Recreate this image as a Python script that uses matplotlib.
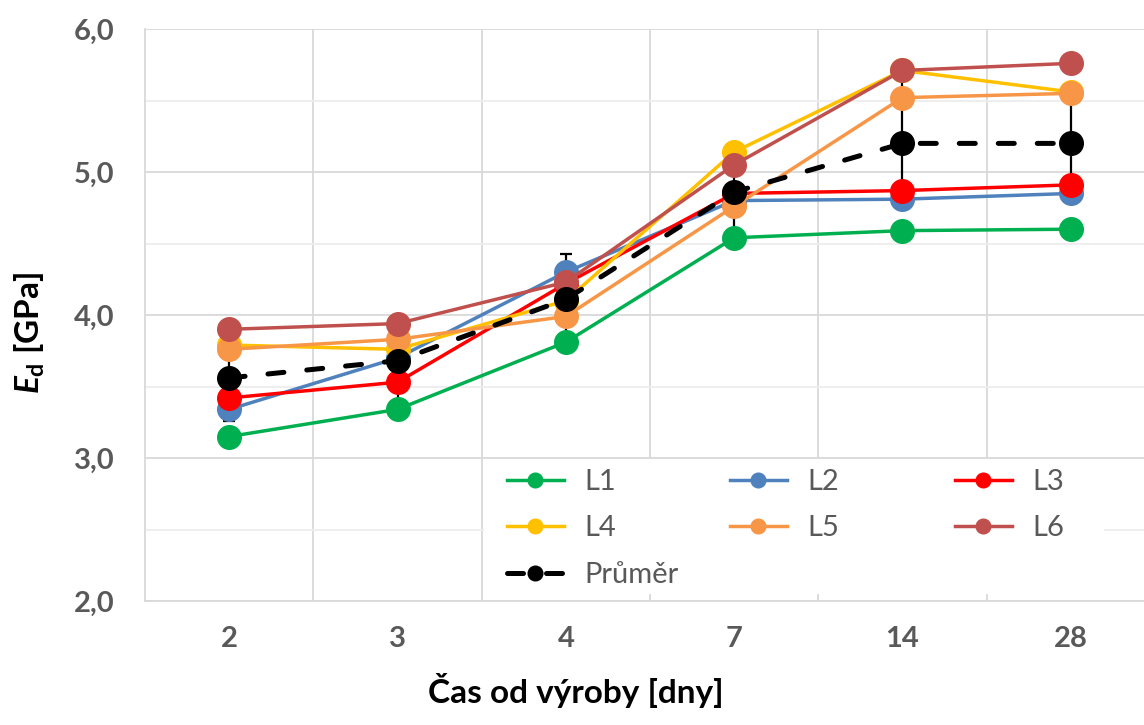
import matplotlib
matplotlib.use("Agg")
import matplotlib.pyplot as plt
from matplotlib.ticker import MultipleLocator
from matplotlib.patches import Rectangle

# data
dny = ["2", "3", "4", "7", "14", "28"]
L1 = [3.15, 3.34, 3.81, 4.54, 4.59, 4.60]
L2 = [3.34, 3.70, 4.30, 4.80, 4.81, 4.85]
L3 = [3.42, 3.53, 4.22, 4.85, 4.87, 4.91]
L4 = [3.79, 3.76, 4.10, 5.14, 5.71, 5.56]
L5 = [3.76, 3.83, 3.99, 4.76, 5.52, 5.55]
L6 = [3.90, 3.94, 4.23, 5.05, 5.71, 5.76]
prumer = [3.56, 3.68, 4.11, 4.86, 5.20, 5.20]
odchylka = [0.30, 0.28, 0.32, 0.28, 0.45, 0.40]

serie = [("L1", L1, "#00B050"), ("L2", L2, "#4F81BD"), ("L3", L3, "#FF0000"),
         ("L4", L4, "#FFC000"), ("L5", L5, "#F79646"), ("L6", L6, "#C0504D")]

plt.rcParams['font.family'] = ['Lato', 'DejaVu Sans']
plt.rcParams['mathtext.fontset'] = 'custom'
plt.rcParams['mathtext.it'] = 'Lato:bold:italic'
plt.rcParams['mathtext.bf'] = 'Lato:bold'
plt.rcParams['mathtext.rm'] = 'Lato:bold'

W, H = 1144, 725
fig = plt.figure(figsize=(W/100, H/100), dpi=100)
ax = fig.add_axes([145/W, 124/H, 1010/W, 572/H])

x = list(range(len(dny)))
handles = {}
for nazev, y, barva in serie:
    h, = ax.plot(x, y, color=barva, lw=2.5, marker="o", ms=17, mec=barva,
                 zorder=3, label=nazev)
    handles[nazev] = h

ax.errorbar(x, prumer, yerr=odchylka, fmt="none", ecolor="black", elinewidth=1.6,
            capsize=4.5, capthick=1.6, zorder=2)
hp, = ax.plot(x, prumer, color="black", lw=3.6, dashes=(3.2, 4.6),
              dash_capstyle="round", marker="o", ms=17, zorder=4, label="Průměr")
handles["Průměr"] = hp

ax.set_xlim(-0.5, 5.5)
ax.set_ylim(2.0, 6.0)
ax.set_xticks(x)
ax.set_xticklabels(dny)
ax.set_xticks([i + 0.5 for i in range(5)], minor=True)
ax.yaxis.set_minor_locator(MultipleLocator(0.5))
ax.set_yticks([2, 3, 4, 5, 6])
ax.set_yticklabels([("%.1f" % v).replace(".", ",") for v in [2, 3, 4, 5, 6]])

ax.grid(which="major", axis="y", color="#D9D9D9", lw=1.3)
ax.grid(which="minor", axis="y", color="#EDEDED", lw=1.3)
ax.grid(which="minor", axis="x", color="#D9D9D9", lw=1.3)
ax.set_axisbelow(True)

for s in ["top", "right"]:
    ax.spines[s].set_visible(False)
for s in ["left", "bottom"]:
    ax.spines[s].set_color("#D9D9D9")
    ax.spines[s].set_linewidth(1.3)

ax.tick_params(which="both", length=0)
ax.tick_params(axis="y", pad=22, labelsize=21, labelcolor="#595959")
ax.tick_params(axis="x", pad=18, labelsize=21, labelcolor="#595959")
for t in ax.get_xticklabels() + ax.get_yticklabels():
    t.set_fontweight("bold")

# legend: white box and three columns like Excel
fig.add_artist(Rectangle((484/W, 1 - 594/H), 620/W, 135/H, transform=fig.transFigure,
                         facecolor="white", edgecolor="none", zorder=1))
sloupce = [(["L1", "L4", "Průměr"], 507), (["L2", "L5"], 730), (["L3", "L6"], 955)]
for nazvy, x0 in sloupce:
    leg = fig.legend([handles[n] for n in nazvy], nazvy, loc="upper left",
                     bbox_to_anchor=(x0/W, 1 - 469/H), frameon=False,
                     fontsize=21, markerscale=0.62, handlelength=1.95,
                     handletextpad=0.7, labelspacing=0.7, borderpad=0,
                     borderaxespad=0)
    for t in leg.get_texts():
        t.set_color("#595959")

fig.text(576/W, 1 - 691/H, "Čas od výroby [dny]", ha="center", va="center",
         fontsize=24, fontweight="bold")
fig.text(30/W, 1 - 333/H, r"$\mathit{E}_{\mathbf{d}}$ [GPa]", ha="center",
         va="center", rotation=90, fontsize=24, fontweight="bold")

fig.savefig("out.png", dpi=100)
